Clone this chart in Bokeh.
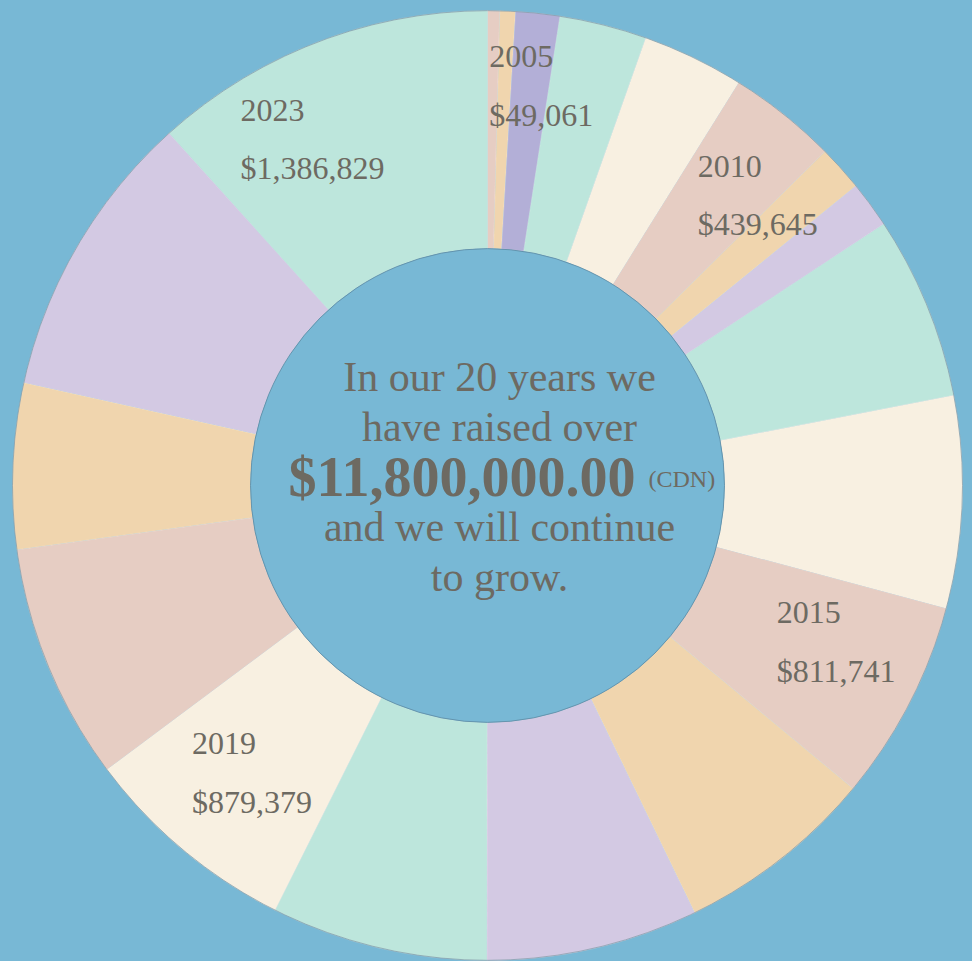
import numpy as np
from bokeh.plotting import figure
from bokeh.models import Range1d, ColumnDataSource
from bokeh.embed import file_html
from bokeh.resources import INLINE
from bokeh.core.properties import value

# ---------------- data ----------------
years = [2005, 2006, 2007, 2008, 2009, 2010, 2011, 2012, 2013, 2014,
         2015, 2016, 2017, 2018, 2019, 2020, 2021, 2022, 2023]
amounts = [49061, 62500, 177700, 352000, 411000, 439645, 184000, 187500, 740000, 855000,
           811741, 806000, 855000, 872000, 879379, 954000, 668000, 1165000, 1386829]
labeled_years = [2005, 2010, 2015, 2019, 2023]
center_lines = ["In our 20 years we", "have raised over", "$11,800,000.00",
                "and we will continue", "to grow."]
currency_note = "(CDN)"

# ---------------- style ----------------
BG = "#78b8d5"
TXT = "#6d6a62"
FONT = "Liberation Serif"
palette = ["#e6cdc3", "#f0d5ae", "#d3c9e3", "#bde6dc", "#f8f0e1"]
colors = [palette[i % 5] for i in range(len(years))]
colors[2] = "#b3afd7"
R_IN, R_OUT = 237, 475

vals = np.array(amounts, dtype=float)
total = vals.sum()
cum = np.concatenate([[0.0], np.cumsum(vals)]) / total * 2 * np.pi
theta_s, theta_e = cum[:-1], cum[1:]

src = ColumnDataSource(dict(
    year=years, amount=amounts, color=colors,
    start=np.pi / 2 - theta_s, end=np.pi / 2 - theta_e,
))

W, H = 972, 961
CX, CY = 487, 485  # donut centre in page pixels
p = figure(width=W, height=H, x_range=Range1d(-CX, W - CX), y_range=Range1d(CY - H, CY),
           output_backend="svg", toolbar_location=None, min_border=0,
           x_axis_type=None, y_axis_type=None)
p.grid.visible = False
p.outline_line_color = None
p.background_fill_color = BG
p.border_fill_color = BG

p.annular_wedge(x=0, y=0, inner_radius=R_IN, outer_radius=R_OUT,
                start_angle="start", end_angle="end", direction="clock",
                fill_color="color", line_color="#fbf6ee", line_width=0.4, line_alpha=0.5,
                source=src)
# thin rims
p.circle(x=[0], y=[0], radius=R_OUT, fill_color=None, line_color="#7f98a6", line_width=1, line_alpha=0.7)
p.circle(x=[0], y=[0], radius=R_IN, fill_color=BG, line_color="#5d8aa2", line_width=1, line_alpha=0.8)

# slice labels
label_nudge = {2005: (-3, 73), 2010: (-12, 41), 2015: (-27, 36), 2019: (-67, 15), 2023: (-119, 43)}
R_MID = (R_IN + R_OUT) / 2
lx, ly_year, ly_val, ytxt, vtxt = [], [], [], [], []
for yr in labeled_years:
    i = years.index(yr)
    tm = (theta_s[i] + theta_e[i]) / 2
    ax, ay = R_MID * np.sin(tm), R_MID * np.cos(tm)
    dx, dy = label_nudge[yr]
    lx.append(ax + dx)
    ly_year.append(ay + dy)
    ly_val.append(ay + dy - 58)
    ytxt.append(str(yr))
    vtxt.append("${:,}".format(amounts[i]))

p.text(x=lx, y=ly_year, text=ytxt, text_font=value(FONT), text_font_size="32px",
       text_color=TXT, text_align="left", text_baseline="alphabetic")
p.text(x=lx, y=ly_val, text=vtxt, text_font=value(FONT), text_font_size="32px",
       text_color=TXT, text_align="left", text_baseline="alphabetic")

# centre text
cx, top_base, step = 12, 109, 50
ys = [top_base - k * step for k in range(len(center_lines))]
reg_idx = [0, 1, 3, 4]
p.text(x=[cx] * 4, y=[ys[k] for k in reg_idx], text=[center_lines[k] for k in reg_idx],
       text_font=value(FONT), text_font_size="42px", text_color=TXT,
       text_align="center", text_baseline="alphabetic")
p.text(x=[cx + 136], y=[ys[2]], text=[center_lines[2]], text_font=value(FONT),
       text_font_size="56px", text_font_style="bold", text_color=TXT,
       text_align="right", text_baseline="alphabetic")
p.text(x=[cx + 149], y=[ys[2] - 2], text=[currency_note], text_font=value(FONT),
       text_font_size="24px", text_color=TXT, text_align="left", text_baseline="alphabetic")

html = file_html(p, INLINE)
html = html.replace("</head>", "<style>html,body{background:%s;margin:0;padding:0;overflow:hidden;}</style></head>" % BG, 1)
open("out.html", "w").write(html)
